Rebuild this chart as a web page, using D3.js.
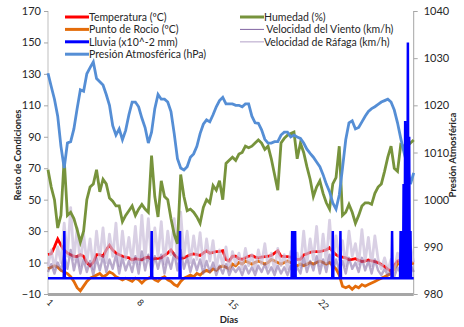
<!DOCTYPE html>
<html>
<head>
<meta charset="utf-8">
<script src="https://cdn.jsdelivr.net/npm/d3@7"></script>
<style>
  body { margin: 0; background: #fff; }
  text { font-family: Lato, "Open Sans", sans-serif; fill: #262626; }
  .axisTitle { font-weight: bold; font-size: 9.5px; }
</style>
</head>
<body>
<div id="chart"></div>
<script>
// one sample every 6 hours, day 1 to day 29.25
var startDay = 1;
var stepDay = 0.25;

var temperatura = [15,15.5,20,25,21,18,16,15,14,13.8,15,14,10,8,10,15,15,14,18,21,18,16,15,14,13.5,13,11.7,12.5,12,11.7,
  13,13.5,12,12.5,12.7,13,14.5,16,18,15,13,12.7,13,14,15,15.5,15,14.5,16,17.5,16,16.5,17,17,17.5,12,11,14,14,12.5,
  12,13,14,14.5,13.5,13,13.5,13.8,14,14.5,16,17.5,14,13.8,13.8,13.5,13,12,12,14.8,15.5,16.5,17,17,17,17.5,18,19.5,17,15,
  13.8,13.5,13,11.7,12,12.5,11.5,10.6,11,11.7,11,10.6,10,8.8,7.5,5.8,4.5,8,11,11.7,11,10.5,10,9.5];

var puntoRocio = [6,7,8,7,5,4,3,1,-2,-6,-8,-5,-2,0,1,2,3,1,2,4,3,1,0,-1,0,-1,-2,0,-1,-3,
  -1,0,1,-1,-2,0,1,-1,-2,-4,-5,-2,0,1,2,1,3,2,4,5,4,6,5,7,8,7,6,9,8,10,
  9,11,10,9,10,11,10,9,10,12,11,10,9,10,11,10,9,8,9,8,9,10,9,10,11,10,9,10,8,6,
  2,-5,-6,-5,-7,-5,-6,-4,-5,-4,-3,-2,-1,0,1,2,3,6,9,10,9,8,9,10];

var humedad = [69,58,50,32,40,76,40,42,38,31,23,30,50,58,60,69,55,63,60,51,49,46,46,36,40,43,46,40,44,47,
  44,42,78,52,39,62,52,50,38,28,22,66,52,43,44,42,39,35,45,50,48,59,56,62,50,73,75,77,75,79,
  80,84,83,84,86,88,86,82,84,76,66,56,86,89,91,92,93,76,86,80,71,63,52,58,62,54,48,44,60,64,
  84,40,42,47,42,35,40,46,48,48,47,54,58,60,68,77,84,70,68,85,84,84,86,88];

var viento = [4,9,3,10,5,15,6,18,5,14,3,12,4,11,2,13,5,14,4,12,6,15,3,13,5,11,4,14,3,17,
  5,15,4,14,6,15,3,13,6,16,5,18,6,13,4,12,5,12,3,11,4,10,2,8,3,9,2,7,4,7,
  2,8,3,7,2,8,4,9,3,7,2,8,3,7,2,8,2,7,3,13,4,11,5,14,3,12,4,15,4,12,
  5,11,3,13,6,10,4,13,5,11,3,12,5,2,6,2,5,1,7,3,8,4,9,4];

var rafaga = [8,18,6,20,10,35,14,45,12,32,8,28,10,25,6,30,12,32,10,28,14,35,8,30,12,26,10,33,9,40,
  12,38,10,32,14,36,9,30,15,38,12,42,14,30,10,27,12,29,8,25,11,24,6,18,8,20,5,17,9,16,
  6,19,8,15,5,18,9,22,7,16,5,19,8,15,6,17,5,16,7,30,9,25,12,33,8,28,10,37,10,27,
  12,24,8,30,14,22,9,31,11,26,8,27,12,6,13,5,12,4,16,8,18,9,20,10];

var presion = [1026.8,1024.0,1021.3,1017.7,1011.3,1006.7,1012.0,1012.3,1015.0,1019.3,1023.3,1023.0,1026.7,1028.0,1029.2,
  1025.7,1025.0,1024.3,1022.3,1020.0,1015.7,1013.7,1015.0,1012.7,1014.7,1018.0,1020.7,1020.7,1019.7,1017.3,
  1015.3,1012.0,1014.3,1019.3,1022.3,1021.3,1021.3,1020.7,1018.7,1014.0,1008.7,1006.7,1006.3,1007.0,1009.0,
  1009.7,1011.3,1014.0,1016.0,1016.9,1016.5,1018.0,1019.7,1021.0,1021.7,1020.3,1020.3,1020.3,1020.0,1020.0,
  1019.7,1020.3,1020.3,1017.7,1016.3,1016.2,1014.8,1012.8,1012.0,1012.0,1012.3,1012.3,1013.7,1014.3,1014.3,
  1013.3,1013.7,1013.3,1013.0,1012.0,1010.7,1009.8,1009.0,1008.0,1007.0,1005.3,1003.3,1001.7,999.3,998.0,
  1001.0,1006.7,1012.7,1016.3,1016.7,1015.0,1015.3,1016.5,1017.7,1018.7,1019.3,1019.7,1020.2,1020.7,1021.0,
  1021.3,1020.7,1019.0,1016.3,1013.0,1010.0,1007.3,1003.3,1005.7];

// rain events: day and amount (x10^-2 mm)
var lluviaDias = [2.26,9.01,11.2,19.86,19.97,20.09,23.0,23.59,27.58,28.24,28.36,28.47,28.59,28.7,28.8,28.9,29.0];
var lluviaValores = [30,30,30,30,30,30,30,30,30,30,30,60,100,90,150,90,30];

var diasTicks = [1, 8, 15, 22];
var leftTicks = d3.range(-10, 171, 20);
var rightTicks = d3.range(980, 1041, 10);

var legendData = [
  {name: 'Temperatura (ºC)', color: '#ff0000', w: 3, col: 0, row: 0},
  {name: 'Punto de Rocio (ºC)', color: '#e46c0a', w: 3, col: 0, row: 1},
  {name: 'Lluvia (x10^-2 mm)', color: '#0000ff', w: 3, col: 0, row: 2},
  {name: 'Presión Atmosférica (hPa)', color: '#558ed5', w: 3, col: 0, row: 3},
  {name: 'Humedad (%)', color: '#77933c', w: 3, col: 1, row: 0},
  {name: ' Velocidad del Viento (km/h)', color: '#8064a2', w: 1, col: 1, row: 1},
  {name: 'Velocidad de Ráfaga (km/h)', color: '#ccc0da', w: 1.5, col: 1, row: 2}
];

var width = 464, height = 327;
var plot = {left: 48, right: 413.7, top: 11, bottom: 294};

var svg = d3.select('#chart').append('svg')
  .attr('width', width)
  .attr('height', height);

var x = d3.scaleLinear()
  .domain([1, 29.25])
  .range([plot.left, plot.right]);

var y = d3.scaleLinear()
  .domain([-10, 170])
  .range([plot.bottom, plot.top]);

var y2 = d3.scaleLinear()
  .domain([980, 1040])
  .range([plot.bottom, plot.top]);

function toPoints(values) {
  return values.map((v, i) => ({day: startDay + i * stepDay, v: v}));
}

var line = d3.line().x(d => x(d.day)).y(d => y(d.v));
var line2 = d3.line().x(d => x(d.day)).y(d => y2(d.v));

// rain line: zero baseline with one-hour spikes
var rainPts = [{day: 1, v: 0}];
lluviaDias.forEach(function(d, i) {
  rainPts.push({day: d - 1 / 24, v: 0});
  rainPts.push({day: d, v: lluviaValores[i]});
  rainPts.push({day: d + 1 / 24, v: 0});
});
rainPts.push({day: 29.25, v: 0});

// axes
svg.append('line')
  .attr('x1', plot.left).attr('x2', plot.left)
  .attr('y1', plot.top).attr('y2', plot.bottom)
  .attr('stroke', '#bfbfbf');
svg.append('line')
  .attr('x1', plot.right).attr('x2', plot.right)
  .attr('y1', plot.top).attr('y2', plot.bottom)
  .attr('stroke', '#a6a6a6');

var leftAxis = svg.append('g')
  .attr('transform', `translate(${plot.left},0)`)
  .call(d3.axisLeft(y).tickValues(leftTicks).tickSize(4).tickPadding(3));
var rightAxis = svg.append('g')
  .attr('transform', `translate(${plot.right},0)`)
  .call(d3.axisRight(y2).tickValues(rightTicks).tickFormat(d3.format('d')).tickSize(4).tickPadding(6));
[leftAxis, rightAxis].forEach(function(a) {
  a.select('.domain').remove();
  a.selectAll('line').attr('stroke', '#a6a6a6');
  a.selectAll('text').style('font-size', '11px').style('font-family', 'Lato, sans-serif').attr('fill', '#262626');
});

// series
svg.append('path').datum(toPoints(temperatura))
  .attr('d', line).attr('fill', 'none').attr('stroke', '#ff0000').attr('stroke-width', 2.8);
svg.append('path').datum(toPoints(puntoRocio))
  .attr('d', line).attr('fill', 'none').attr('stroke', '#e46c0a').attr('stroke-width', 2.8);
svg.append('path').datum(toPoints(rafaga))
  .attr('d', line).attr('fill', 'none').attr('stroke', '#c9bcd9').attr('stroke-width', 2.8)
  .attr('stroke-opacity', 0.7).attr('stroke-linejoin', 'round');
svg.append('path').datum(toPoints(viento))
  .attr('d', line).attr('fill', 'none').attr('stroke', '#8064a2').attr('stroke-width', 2.4)
  .attr('stroke-opacity', 0.55).attr('stroke-linejoin', 'round');
svg.append('path').datum(toPoints(humedad))
  .attr('d', line).attr('fill', 'none').attr('stroke', '#77933c').attr('stroke-width', 2.8);
svg.append('path').datum(toPoints(presion))
  .attr('d', line2).attr('fill', 'none').attr('stroke', '#558ed5').attr('stroke-width', 2.8);
svg.append('path').datum(rainPts)
  .attr('d', line).attr('fill', 'none').attr('stroke', '#0000ff').attr('stroke-width', 2.5);

// bottom axis (gray floor)
svg.append('line')
  .attr('x1', plot.left).attr('x2', plot.right)
  .attr('y1', plot.bottom + 0.5).attr('y2', plot.bottom + 0.5)
  .attr('stroke', '#a6a6a6').attr('stroke-width', 3);

svg.append('g').selectAll('text')
  .data(diasTicks)
  .enter().append('text')
  .attr('transform', d => `translate(${x(d) - 2},${303}) rotate(45)`)
  .style('font-size', '9px')
  .text(d => d);

svg.append('text')
  .attr('class', 'axisTitle')
  .attr('x', 229).attr('y', 323)
  .style('text-anchor', 'middle')
  .text('Días');

svg.append('text')
  .attr('class', 'axisTitle')
  .attr('transform', 'translate(21,155) rotate(-90)')
  .style('text-anchor', 'middle')
  .text('Resto de Condiciones');

svg.append('text')
  .attr('class', 'axisTitle')
  .attr('transform', 'translate(456,155) rotate(-90)')
  .style('text-anchor', 'middle')
  .text('Presión Atmosférica');

// legend
var legend = svg.append('g')
  .selectAll('g')
  .data(legendData)
  .enter()
  .append('g')
  .attr('transform', d => `translate(${d.col ? 240 : 65}, ${17 + d.row * 12.4})`);
legend.append('line')
  .attr('x1', 0).attr('x2', 24)
  .attr('stroke', d => d.color)
  .attr('stroke-width', d => d.w);
legend.append('text')
  .attr('x', 24)
  .attr('y', 3.8)
  .attr('xml:space', 'preserve')
  .style('font-size', '10.5px')
  .text(d => d.name);
</script>
</body>
</html>
